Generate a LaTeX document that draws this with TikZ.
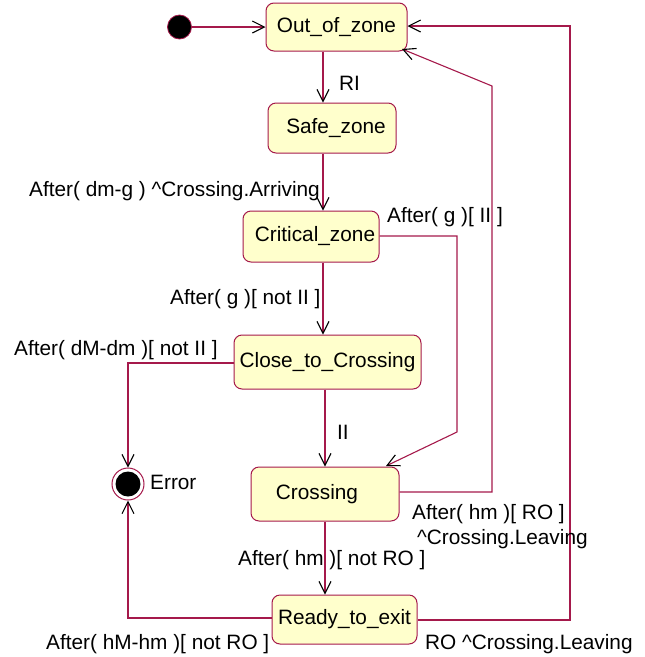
\documentclass[tikz,border=0pt]{standalone}
\usepackage{fontspec}
\setmainfont{Liberation Sans}
\usetikzlibrary{arrows.meta}
\definecolor{edge}{RGB}{165,25,75}
\definecolor{statefill}{RGB}{255,255,204}
\begin{document}
\begin{tikzpicture}[x=1pt,y=-1pt,
  every node/.style={font=\fontsize{20.8}{24}\selectfont},
  state/.style={draw=edge,line width=1pt,fill=statefill,rounded corners=8pt,
                inner sep=0pt,anchor=center},
  trans/.style={draw=edge,line width=1.1pt,
                -{Straight Barb[length=12pt,width=12pt,line width=1.1pt,color=black]}},
  lbl/.style={inner sep=0pt,anchor=base west}]
\useasboundingbox (0,0) rectangle (645,657);

% states
\node[state,minimum width=141pt,minimum height=48pt] (out)   at (336.5,27)  {Out\_of\_zone};
\node[state,minimum width=128pt,minimum height=50pt] (safe)  at (332,128)   {\hspace{8pt}Safe\_zone};
\node[state,minimum width=136pt,minimum height=51pt] (crit)  at (311,236.5) {\hspace{8pt}Critical\_zone};
\node[state,minimum width=187pt,minimum height=54pt] (close) at (327.5,362) {Close\_to\_Crossing};
\node[state,minimum width=148pt,minimum height=54pt] (cross) at (325,494)   {Crossing\kern16pt};
\node[state,minimum width=145pt,minimum height=49pt] (ready) at (344.5,619.5){Ready\_to\_exit};

% initial and final pseudo-states
\node[circle,fill=black,draw=edge,line width=0.8pt,minimum size=24pt,inner sep=0pt] (init) at (179.5,27) {};
\node[circle,draw=edge,line width=1pt,fill=white,minimum size=32pt,inner sep=0pt] (error) at (128,484) {};
\node[circle,fill=black,minimum size=25pt,inner sep=0pt] (errorcore) at (error) {};

% column and routing coordinates
\coordinate (c1) at (323,0);
\coordinate (c2) at (325,0);
\coordinate (k1) at (457,236);
\coordinate (k2) at (457,432);
\coordinate (k3) at (386,466);
\coordinate (r1) at (492,492);
\coordinate (r2) at (492,86);
\coordinate (r3) at (402,49);
\coordinate (e1) at (128,363);
\coordinate (e2) at (128,618);
\coordinate (o1) at (570,620);
\coordinate (o2) at (570,26);

% transitions
\draw[trans] (init) -- (out.west |- init);
\draw[trans] (out.south -| c1) -- (safe.north -| c1);
\draw[trans] (safe.south -| c1) -- (crit.north -| c1);
\draw[trans] (crit.south -| c1) -- (close.north -| c1);
\draw[trans] (crit.east |- k1) -- (k1) -- (k2) -- (k3);
\draw[trans] (close.south -| c2) -- (cross.north -| c2);
\draw[trans] (close.west |- e1) -- (e1) -- (error.north);
\draw[trans] (cross.east |- r1) -- (r1) -- (r2) -- (r3);
\draw[trans] (cross.south -| c2) -- (ready.north -| c2);
\draw[trans] (ready.west |- e2) -- (e2) -- (error.south);
\draw[trans] (ready.east |- o1) -- (o1) -- (o2) -- (out.east |- o2);

% transition labels
\node[lbl] (tRI)   at (339,90)  {RI};
\node[lbl] (tArr)  at (29,196)  {After( dm-g ) \textasciicircum Crossing.Arriving};
\node[lbl] (tGII)  at (387,222) {After( g )[ II ]};
\node[lbl] (tGnot) at (170,304) {After( g )[ not II ]};
\node[lbl] (tDM)   at (14,355)  {After( dM-dm )[ not II ]};
\node[lbl] (tII)   at (337,439) {II};
\node[lbl] (tErr)  at (150,489) {Error};
\node[lbl] (tHRO)  at (412,519) {After( hm )[ RO ]};
\node[lbl] (tLeav) at (417,544) {\textasciicircum Crossing.Leaving};
\node[lbl] (tHnot) at (238,565) {After( hm )[ not RO ]};
\node[lbl] (tHM)   at (46,649)  {After( hM-hm )[ not RO ]};
\node[lbl] (tRO)   at (425,649) {RO \textasciicircum Crossing.Leaving};
\end{tikzpicture}
\end{document}
